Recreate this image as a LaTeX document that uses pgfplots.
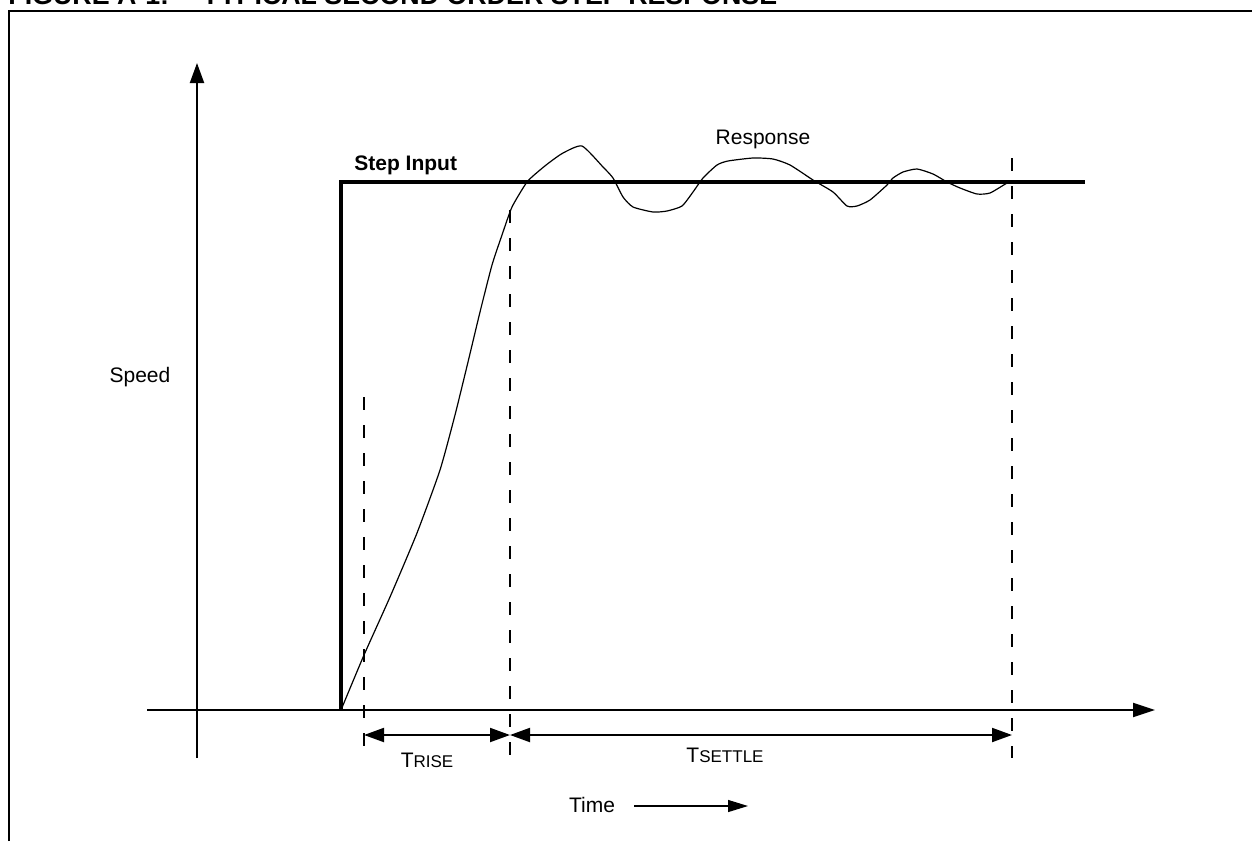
\documentclass[border=0pt]{standalone}
\usepackage{pgfplots}
\pgfplotsset{compat=1.18}
\usepackage{fontspec}
\setmainfont{Liberation Sans}
\usetikzlibrary{arrows.meta}

\begin{document}
\begin{tikzpicture}
\begin{axis}[
    at={(0,0)}, anchor=south west,
    scale only axis,
    width=626pt, height=420.5pt,
    xmin=0, xmax=1252, ymin=0, ymax=841,
    y dir=reverse,
    axis lines=none,
    clip=false,
    font=\fontsize{10.5}{12}\selectfont,
]
% frame and cut title
\draw[line width=1pt] (axis cs:9,841) -- (axis cs:9,11) -- (axis cs:1252,11);
\node[anchor=base west, font=\fontsize{13.4}{15}\selectfont\bfseries, inner sep=0pt]
    at (axis cs:8,4.5) {FIGURE A-1:};
\node[anchor=base west, font=\fontsize{13.4}{15}\selectfont\bfseries, inner sep=0pt]
    at (axis cs:202,4.5) {TYPICAL SECOND ORDER STEP RESPONSE};

% axes
\draw[line width=1pt, -{Triangle[length=10pt,width=7pt]}] (axis cs:197,758) -- (axis cs:197,63);
\draw[line width=1pt, -{Triangle[length=11pt,width=7pt]}] (axis cs:147,710) -- (axis cs:1155,710);

% step input
\addplot[line width=1.6pt, black, line join=miter] coordinates {
    (341,710) (341,182) (1085,182)
};

% response
\addplot[line width=0.6pt, black, smooth, tension=0.35] coordinates {
    (341,710) (364,655) (390,597) (417,533) (440,470) (455,415)
    (468,362) (480,312) (492,265) (502,235) (512,207) (527,182)
    (540,170) (550,162) (563,153) (582,146) (603,167) (613,178)
    (623,197) (633,207) (653,212) (667,211) (682,206) (693,192)
    (703,178) (717,165) (728,161) (753,158) (773,159) (790,165)
    (813,180) (833,192) (847,206) (857,206) (870,200) (887,185)
    (893,178) (903,172) (917,169) (933,174) (947,182) (960,188)
    (977,194) (990,193) (1007,183) (1012,181)
};

% dashed markers
\draw[line width=1pt, dash pattern=on 6.5pt off 7.5pt] (axis cs:364,397) -- (axis cs:364,758);
\draw[line width=1pt, dash pattern=on 6.5pt off 7.5pt] (axis cs:510,210) -- (axis cs:510,758);
\draw[line width=1pt, dash pattern=on 6.5pt off 7.5pt] (axis cs:1012,158) -- (axis cs:1012,758);

% dimension arrows
\draw[line width=1pt, {Triangle[length=10pt,width=7pt]}-{Triangle[length=10pt,width=7pt]}]
    (axis cs:364,735) -- (axis cs:510,735);
\draw[line width=1pt, {Triangle[length=10pt,width=7pt]}-{Triangle[length=10pt,width=7pt]}]
    (axis cs:510,735) -- (axis cs:1012,735);

% labels
\node at (axis cs:140,377) {Speed};
\node[anchor=base west, inner sep=0pt, font=\fontsize{10.5}{12}\selectfont\bfseries] at (axis cs:354,170) {Step Input};
\node at (axis cs:763,139) {Response};
\node at (axis cs:427,760) {T\fontsize{8.5}{10}\selectfont RISE};
\node at (axis cs:725,755) {T\fontsize{8.5}{10}\selectfont SETTLE};
\node at (axis cs:592,805) {Time};
\draw[line width=0.6pt, -{Triangle[length=10pt,width=6pt]}] (axis cs:634,806) -- (axis cs:748,806);
\end{axis}
\pgfresetboundingbox
\useasboundingbox (0,0) rectangle (626pt,420.5pt);
\end{tikzpicture}
\end{document}
